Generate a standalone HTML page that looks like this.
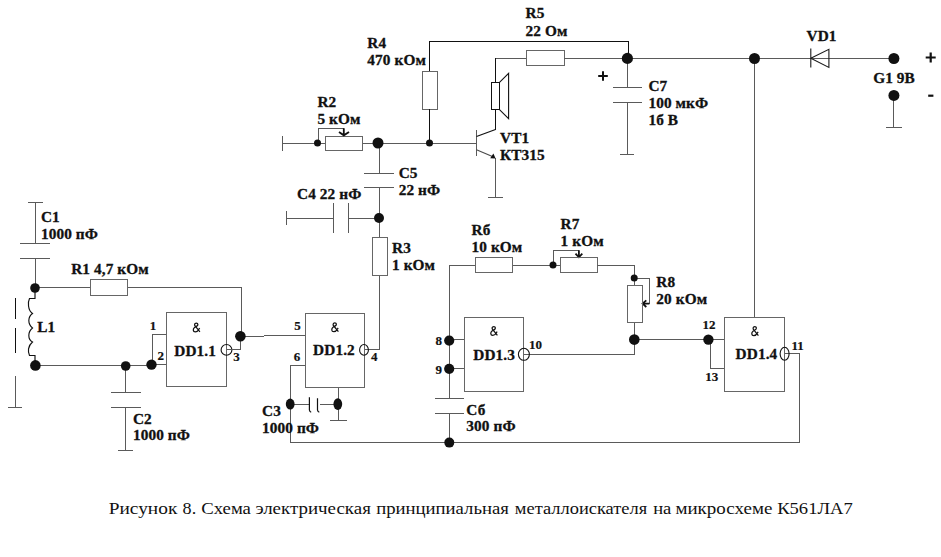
<!DOCTYPE html>
<html><head><meta charset="utf-8">
<style>
html,body{margin:0;padding:0;background:#fff;width:941px;height:557px;overflow:hidden}
svg{display:block}
.w{fill:none;stroke:#5a5a5a;stroke-width:1;shape-rendering:crispEdges}
.r{stroke:#666}
.k{fill:none;stroke:#111;stroke-width:1;shape-rendering:crispEdges}
.wd{fill:none;stroke:#4a4a4a;stroke-width:1.1}
.kd{fill:none;stroke:#111;stroke-width:1.2}
.d{fill:#111;stroke:none}
.t{font-family:"Liberation Serif",serif;font-weight:bold;font-size:15.3px;fill:#111;stroke:#111;stroke-width:0.3;letter-spacing:0.1px}
.p{font-family:"Liberation Serif",serif;font-weight:bold;font-size:13px;fill:#111;stroke:#111;stroke-width:0.2}
.b{fill:none;stroke:#111;stroke-width:1.1}
.ap{fill:none;stroke:#111;stroke-width:1.25}
.ar{fill:none;stroke:#111;stroke-width:1.8}
.amp{font-family:"Liberation Serif",serif;font-size:13.5px;fill:#111;stroke:#111;stroke-width:0.4}
.cap{font-family:"Liberation Serif",serif;font-size:17.3px;fill:#111}
</style></head><body>
<svg width="941" height="557" viewBox="0 0 941 557">
<!-- ===== TOP: R4, R5, speaker, VT1, C7, VD1, G1 ===== -->
<path class="k" d="M429.5,71.8 V41.5 H628.3 V58"/>
<rect class="w r" x="422.4" y="71.8" width="15.3" height="37.5"/>
<path class="k" d="M429.5,109.3 V143"/>
<!-- base wire -->
<path class="w" d="M282.6,136.1 V151 M282.6,143.2 H325.3 M362.7,143 H476.5"/>
<rect class="w r" x="325.6" y="136.1" width="37.1" height="14.4"/>
<path class="w" d="M318.4,143 V128.3 H343.8"/><path class="ar" d="M343.8,128.3 V135.3 M339,131.9 L343.8,135.3 L349,131.9"/>
<!-- C5 -->
<path class="w" d="M379,143 V173.3 M364.4,173.3 H394 M364.4,187.7 H394 M379,187.7 V218"/>
<!-- C4 -->
<path class="w" d="M286.3,210.5 V225.2 M286.3,218 H333.5 M333.5,203 V232.7 M348.1,203 V232.7 M348.1,218 H379"/>
<!-- R3 -->
<path class="w" d="M379,218 V237.8 M379.6,275 V349.9 H364"/>
<rect class="w r" x="372.6" y="237.8" width="14.7" height="37.3"/>
<!-- VT1 -->
<path class="w" d="M476.5,130 V156.3"/><path class="kd" d="M476.5,136.5 L495.5,129.5"/><path class="k" d="M495.5,129.5 V109.5"/>
<path class="wd" d="M476.5,149.8 L493,156.8"/><path class="w" d="M495.3,158 V197.5 M488.2,197.5 H502.6"/>
<path class="d" d="M495.6,158.4 L490.2,158.2 L493.4,153.6 Z"/>
<!-- speaker -->
<rect class="k" x="491.3" y="82.3" width="8.2" height="27.3"/>
<path fill="none" stroke="#111" stroke-width="1.1" d="M499.5,82.3 L508.6,73.3 V118.6 L499.5,109.6"/>
<path class="k" d="M495.5,82.3 V58.3"/><path class="w" d="M495.5,58.3 H526.5"/>
<rect class="w r" x="526.5" y="50.8" width="37.5" height="15"/>
<path class="w" d="M563.8,58.3 H893.9"/>
<path class="w" d="M754.3,58 V317.2"/>
<!-- diode -->
<path fill="none" stroke="#1a1a1a" stroke-width="1.1" d="M810.8,48.6 V67.6 M810.8,58.3 L828.9,49.3 V67.4 Z"/>
<path class="w" d="M893.9,95.4 V127.3 M886,127.3 H902"/>
<!-- C7 -->
<path class="w" d="M627.3,58 V87.9 M612.6,87.9 H642 M612.6,102.4 H642 M627.3,102.4 V154.3 M620,154.3 H633.7"/>

<!-- ===== LEFT: C1, L1, R1, C2, DD1.1 ===== -->
<path class="w" d="M28,202.1 H42.7 M35,202.1 V243.2 M19.8,243.2 H50.2 M19.8,258.2 H50.2 M35,258.2 V288"/>
<path class="w" d="M35,287.5 H90.4 M127.7,287.5 H241 V337"/>
<rect class="w r" x="90.4" y="279.9" width="37.3" height="15.6"/>
<path fill="none" stroke="#111" stroke-width="1.15" d="M35,288 V298.5 H29.5 C27.8,302 27.6,310 32.5,313.5 C27.6,317 27.6,324 32.5,328 C27.6,332 27.6,339 32.5,342 C27.6,346 27.8,352 29.5,355.5 H35 V365"/>
<path class="k" d="M15.3,298 V319 M15.3,327.5 V353"/>
<path class="w" d="M15.3,376.2 V407.6 M8.1,407.6 H21.5"/>
<path class="w" d="M35,365.5 H151.5 M151.5,364.5 H166.4"/>
<path class="w" d="M125.7,366 V392.9 M111.3,392.9 H140.6 M111.3,407.6 H140.6 M125.7,407.6 V450.1 M118,450.1 H132.5"/>
<path class="w" d="M152.2,364.5 V334.8 H166.4"/>
<rect class="w r" x="166.4" y="312.4" width="59.6" height="74.1"/>
<circle class="b" cx="226.5" cy="349.9" r="5.4"/>
<path class="w" d="M226.5,349.9 H240.5 V336.5 M240.5,336.3 H264.4 M264.4,335.3 H305"/>

<!-- ===== DD1.2, C3 ===== -->
<rect class="w r" x="305" y="313.5" width="59.5" height="74"/>
<ellipse class="b" cx="364" cy="349.9" rx="4.4" ry="5.4"/>
<path class="w" d="M305,365.2 H290.7 V442.5 H799.2 V353.8 H784.6"/>
<path class="w" d="M290.7,404.1 H309.4 M320.3,404.1 H338 M338.2,387.5 V420.2 M329.7,420.2 H347.4"/>
<path class="kd" d="M309.4,397.2 V410 Q309.6,411.6 311.2,412.2 M317.5,398.3 V410 Q317.7,411.6 319.3,412.2"/>

<!-- ===== R6, R7, R8, DD1.3, C6 ===== -->
<path class="w" d="M449.5,398 V265 H475 M512.3,265 H560.1"/>
<rect class="w r" x="475" y="257.8" width="37.3" height="14.7"/>
<path class="w" d="M553,265 V250.3 H578.9"/><path class="ar" d="M578.9,250.3 V257.3 M575.5,253.7 L578.9,257.3 L582.3,253.7"/>
<rect class="w r" x="560.1" y="257.4" width="37.3" height="15.2"/>
<path class="w" d="M597.4,265 H634.2 V285.3"/>
<path class="w" d="M634.2,278.5 H649.4 V303.6"/><path class="ar" d="M649.4,303.6 H642.6 M646.3,300.4 L642.6,303.6 L646.3,307"/>
<rect class="w r" x="627" y="285.3" width="15.5" height="37"/>
<path class="w" d="M634.2,322.6 V354.3 H523.9 M634.2,339.3 H724.6 M710.7,339.3 V368.6 H724.6"/>
<rect class="w r" x="724.6" y="317.2" width="59.8" height="74.2"/>
<ellipse class="b" cx="784.6" cy="353.8" rx="4.5" ry="6.5"/>
<rect class="w r" x="464.4" y="317.5" width="59.3" height="74"/>
<ellipse class="b" cx="523.9" cy="354.3" rx="5.5" ry="6"/>
<path class="w" d="M449,339.3 H464.4 M449,368.8 H464.4"/>
<path class="w" d="M434.8,398 H463.6 M434.8,413.2 H463.6 M449.5,413.2 V442.5"/>

<!-- ===== DOTS ===== -->
<circle class="d" cx="317.5" cy="143" r="3.5"/>
<circle class="d" cx="378" cy="143" r="5.5"/>
<circle class="d" cx="429.5" cy="143" r="3.5"/>
<circle class="d" cx="379" cy="218" r="5"/>
<circle class="d" cx="627.4" cy="58.4" r="5.6"/>
<circle class="d" cx="754.5" cy="58.5" r="5.5"/>
<circle class="d" cx="893.9" cy="58.5" r="5.5"/>
<circle class="d" cx="893.9" cy="95.4" r="5.5"/>
<circle class="d" cx="35" cy="288" r="4.8"/>
<circle class="d" cx="35.4" cy="365.4" r="5.3"/>
<circle class="d" cx="125.7" cy="366" r="4.8"/>
<circle class="d" cx="151.5" cy="364.6" r="5.2"/>
<circle class="d" cx="240.4" cy="336.2" r="5.3"/>
<ellipse class="d" cx="290.2" cy="404.1" rx="4.4" ry="5.5"/>
<ellipse class="d" cx="337.8" cy="404.1" rx="4.4" ry="5.8"/>
<circle class="d" cx="553" cy="265" r="3.5"/>
<circle class="d" cx="634.2" cy="278.1" r="3.5"/>
<circle class="d" cx="634.3" cy="339.6" r="5.3"/>
<circle class="d" cx="708.4" cy="339.6" r="5.2"/>
<circle class="d" cx="449.2" cy="340.6" r="5.1"/>
<circle class="d" cx="449.2" cy="368.8" r="5.1"/>
<circle class="d" cx="449.3" cy="442.6" r="5"/>
<!-- ===== TEXT ===== -->
<path class="ap" transform="translate(192.3,322.6)" d="M7.6,9.3 L3,3.6 C1.9,2.6 2,0.4 4,0.4 C6,0.4 6,2.6 4.5,3.5 L2.2,4.9 C0.5,6.1 0.4,9.3 3,9.3 C4.6,9.3 5.8,8.2 6.6,6.6 L7.4,5.6"/>
<path class="ap" transform="translate(330.8,322.4)" d="M7.6,9.3 L3,3.6 C1.9,2.6 2,0.4 4,0.4 C6,0.4 6,2.6 4.5,3.5 L2.2,4.9 C0.5,6.1 0.4,9.3 3,9.3 C4.6,9.3 5.8,8.2 6.6,6.6 L7.4,5.6"/>
<path class="ap" transform="translate(489.8,326.1)" d="M7.6,9.3 L3,3.6 C1.9,2.6 2,0.4 4,0.4 C6,0.4 6,2.6 4.5,3.5 L2.2,4.9 C0.5,6.1 0.4,9.3 3,9.3 C4.6,9.3 5.8,8.2 6.6,6.6 L7.4,5.6"/>
<path class="ap" transform="translate(750.8,326.3)" d="M7.6,9.3 L3,3.6 C1.9,2.6 2,0.4 4,0.4 C6,0.4 6,2.6 4.5,3.5 L2.2,4.9 C0.5,6.1 0.4,9.3 3,9.3 C4.6,9.3 5.8,8.2 6.6,6.6 L7.4,5.6"/>

<text class="t" x="525.6" y="18.3">R5</text>
<text class="t" x="525.6" y="35.6">22 Ом</text>
<text class="t" x="367.3" y="48">R4</text>
<text class="t" x="367.3" y="64.5">470 кОм</text>
<text class="t" x="317.4" y="106.8">R2</text>
<text class="t" x="317.4" y="123.7">5 кОм</text>
<text class="t" x="398.7" y="177.6">C5</text>
<text class="t" x="398.7" y="194.8">22 нФ</text>
<text class="t" x="297" y="199.3">C4 22 нФ</text>
<text class="t" x="392" y="252.5">R3</text>
<text class="t" x="392" y="269.5">1 кОм</text>
<text class="t" x="500" y="142.6">VT1</text>
<text class="t" x="500" y="159.8">КТ315</text>
<text class="t" x="648.4" y="90.5">C7</text>
<text class="t" x="648.4" y="107.8">100 мкФ</text>
<text class="t" x="648.4" y="125">1б В</text>
<path fill="none" stroke="#111" stroke-width="2" d="M598.2,76 H607.8 M603,71.2 V80.8"/>
<text class="t" x="806.5" y="41">VD1</text>
<text class="t" x="873.2" y="83.3">G1 9В</text>
<path fill="none" stroke="#111" stroke-width="2.2" d="M925.7,57.5 H935.7 M930.7,52.5 V62.5"/>
<path fill="none" stroke="#111" stroke-width="2.2" d="M928.2,95.7 H933.4"/>
<text class="t" x="40.9" y="221.5">C1</text>
<text class="t" x="40.9" y="239">1000 пФ</text>
<text class="t" x="71.2" y="273.6">R1 4,7 кОм</text>
<text class="t" x="37.2" y="331.5">L1</text>
<text class="t" x="132.9" y="423.7">C2</text>
<text class="t" x="132.9" y="440.3">1000 пФ</text>
<text class="p" x="149.8" y="330.2">1</text>
<text class="p" x="157.5" y="359.8">2</text>
<text class="p" x="233.3" y="360.5">3</text>
<text class="t" x="174.3" y="355.6">DD1.1</text>
<text class="p" x="294.2" y="329.6">5</text>
<text class="p" x="293.7" y="360.6">6</text>
<text class="p" x="371" y="360.6">4</text>
<text class="t" x="313.1" y="355.2">DD1.2</text>
<text class="t" x="262" y="415.8">C3</text>
<text class="t" x="262" y="433.3">1000 пФ</text>
<text class="t" x="471.5" y="235.2">Rб</text>
<text class="t" x="471.5" y="252.2">10 кОм</text>
<text class="t" x="560.6" y="228.5">R7</text>
<text class="t" x="560.6" y="245.5">1 кОм</text>
<text class="t" x="656.3" y="286.7">R8</text>
<text class="t" x="656.3" y="303.9">20 кОм</text>
<text class="p" x="435.5" y="344.5">8</text>
<text class="p" x="435.5" y="373.8">9</text>
<text class="p" x="529.1" y="349">10</text>
<text class="t" x="473.3" y="359.8">DD1.3</text>
<text class="t" x="466.3" y="414.5">Сб</text>
<text class="t" x="466.3" y="431.2">300 пФ</text>
<text class="p" x="702.6" y="328.9">12</text>
<text class="p" x="705.2" y="380.8">13</text>
<text class="p" x="791.5" y="349.5">11</text>
<text class="t" x="735.6" y="358.5">DD1.4</text>
<g class="cap"><text transform="translate(108.66,513.8) scale(1.1203,1)">Рисунок</text><text transform="translate(182.62,513.8) scale(1.0455,1)">8.</text><text transform="translate(201.19,513.8) scale(1.0838,1)">Схема</text><text transform="translate(255.38,513.8) scale(1.0945,1)">электрическая</text><text transform="translate(376.16,513.8) scale(1.0817,1)">принципиальная</text><text transform="translate(514.87,513.8) scale(1.0653,1)">металлоискателя</text><text transform="translate(653.16,513.8) scale(1.075,1)">на</text><text transform="translate(675.45,513.8) scale(1.098,1)">микросхеме</text><text transform="translate(777.19,513.8) scale(1.0739,1)">К561ЛА7</text></g>
</svg>
</body></html>
